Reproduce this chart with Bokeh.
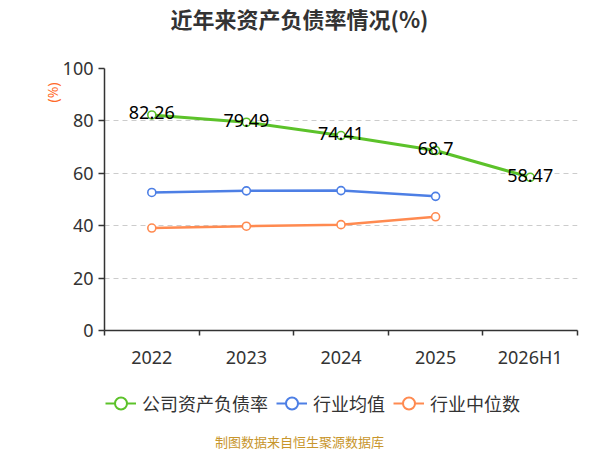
from bokeh.plotting import figure
from bokeh.layouts import column
from bokeh.models import FixedTicker, Label, Legend, LegendItem, Range1d, Title
from bokeh.core.properties import value
from bokeh.embed import file_html
from bokeh.resources import INLINE

# ---- data ----
categories = ["2022", "2023", "2024", "2025", "2026H1"]
company = [82.26, 79.49, 74.41, 68.7, 58.47]
industry_avg = [52.7, 53.3, 53.4, 51.2]
industry_median = [39.1, 39.8, 40.4, 43.4]
y_ticks = [0, 20, 40, 60, 80, 100]
series_names = ["公司资产负债率", "行业均值", "行业中位数"]
title_text = "近年来资产负债率情况(%)"
source_text = "制图数据来自恒生聚源数据库"
unit_text = "(%)"

# ---- styles ----
colors = ["#5cc22a", "#4d7fe5", "#ff8a50"]
widths = [3, 2.5, 2.5]
LATIN = "Noto Sans"
CJK = "Noto Sans CJK SC"
TXT = "#333333"
W = 584
TOP_H, MAIN_H, BOT_H = 40, 332, 78
FL, FR = 104, 577   # frame left / right (canvas px), shared by aligned strips


def strip_fig(h):
    f = figure(width=W, height=h, x_range=Range1d(FL, FR), y_range=Range1d(0, h),
               x_axis_type=None, y_axis_type=None, min_border=0,
               min_border_left=FL, min_border_right=W - FR,
               output_backend="svg", toolbar_location=None, title=None)
    f.outline_line_color = None
    f.background_fill_color = "white"
    f.border_fill_color = "white"
    return f


# ---- title strip ----
top = strip_fig(TOP_H)
top.add_layout(Label(x=299, y=TOP_H - 17, text=title_text, text_align="center",
                     text_baseline="middle", text_font=CJK, text_font_size="22px",
                     text_font_style="bold", text_color=TXT))

# ---- main chart ----
xs = [i + 0.5 for i in range(len(categories))]
p = figure(width=W, height=MAIN_H, frame_width=FR - FL, frame_height=262,
           min_border_left=FL, min_border_right=W - FR,
           min_border_top=28, min_border_bottom=MAIN_H - 28 - 262,
           x_range=Range1d(0, len(categories)), y_range=Range1d(0, 100),
           output_backend="svg", toolbar_location=None, title=None)
p.outline_line_color = None
p.background_fill_color = "white"
p.border_fill_color = "white"

p.xgrid.visible = False
p.ygrid.ticker = FixedTicker(ticks=y_ticks)
p.ygrid.grid_line_color = "#cccccc"
p.ygrid.grid_line_dash = "5 4"
p.ygrid.grid_line_width = 1

p.xaxis.ticker = FixedTicker(ticks=xs, minor_ticks=list(range(len(categories) + 1)))
p.xaxis.major_label_overrides = {x: c for x, c in zip(xs, categories)}
p.xaxis.major_tick_out = 0
p.xaxis.major_tick_in = 0
p.xaxis.minor_tick_out = 5
p.xaxis.minor_tick_in = 0
p.xaxis.minor_tick_line_color = TXT
p.xaxis.minor_tick_line_width = 1.5
p.xaxis.axis_line_color = TXT
p.xaxis.axis_line_width = 1.5
p.xaxis.major_label_standoff = 9
p.xaxis.major_label_text_font = LATIN
p.xaxis.major_label_text_font_size = "18px"
p.xaxis.major_label_text_color = TXT

p.yaxis.ticker = FixedTicker(ticks=y_ticks)
p.yaxis.major_tick_out = 6
p.yaxis.major_tick_in = 0
p.yaxis.minor_tick_line_color = None
p.yaxis.major_tick_line_color = TXT
p.yaxis.major_tick_line_width = 1.5
p.yaxis.axis_line_color = TXT
p.yaxis.axis_line_width = 1.5
p.yaxis.major_label_standoff = 5
p.yaxis.major_label_text_font = LATIN
p.yaxis.major_label_text_font_size = "18px"
p.yaxis.major_label_text_color = TXT

p.add_layout(Title(text=unit_text, align="right", offset=14, standoff=-5,
                   text_font=LATIN, text_font_size="14px",
                   text_font_style="normal", text_color="#ff6a2a"), "left")

all_series = [company, industry_avg, industry_median]
for ys, c, lw in zip(all_series, colors, widths):
    xx = xs[:len(ys)]
    p.line(xx, ys, line_color=c, line_width=lw)
    p.scatter(xx, ys, marker="circle", size=8, fill_color="white",
              line_color=c, line_width=1.6)

p.text(xs, company, text=[str(v) for v in company], text_align="center",
       text_baseline="middle", y_offset=-2, text_color="#000000",
       text_font=value(LATIN), text_font_size="18px")

# ---- legend + source strip ----
bot = strip_fig(BOT_H)
leg_items = []
for name, c in zip(series_names, colors):
    # legend swatches only: data sits below the visible range
    l = bot.line([FL, FL + 1], [-20, -20], line_color=c, line_width=2)
    s = bot.scatter([FL], [-20], marker="circle", size=12, fill_color="white",
                    line_color=c, line_width=2)
    leg_items.append(LegendItem(label=name, renderers=[l, s]))
legend = Legend(items=leg_items, location=(1, BOT_H - 403 + 372 - 15),
                orientation="horizontal",
                glyph_width=31, glyph_height=30, label_standoff=6, spacing=8,
                padding=0, margin=0, border_line_color=None,
                background_fill_alpha=0,
                label_text_font=CJK, label_text_font_size="18px",
                label_text_color=TXT)
bot.add_layout(legend)
bot.add_layout(Label(x=299, y=BOT_H - (441 - 372), text=source_text,
                     text_align="center", text_baseline="middle",
                     text_font=CJK, text_font_size="13px", text_color="#c8962c"))

layout = column(top, p, bot, spacing=0)
open("out.html", "w").write(file_html(layout, INLINE))
